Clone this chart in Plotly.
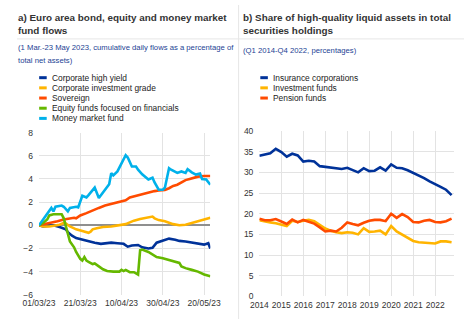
import plotly.graph_objects as go
import pandas as pd

# ---------------- Panel a data (day offsets from 1 March 2023) ----------------
hy_days = [0, 2, 4, 7, 10, 13, 14, 16, 18, 21, 24, 27, 30, 32, 35, 38, 41, 43, 45, 48, 50, 53, 55, 57, 60, 63, 66, 68, 71, 74, 77, 80, 82, 83]
hy_vals = [0.0, -0.1, -0.05, 0.0, -0.15, -0.35, -0.6, -0.9, -1.1, -1.25, -1.35, -1.5, -1.6, -1.55, -1.5, -1.55, -1.6, -1.85, -1.75, -1.7, -1.9, -2.0, -1.95, -1.5, -1.3, -1.15, -1.25, -1.35, -1.4, -1.48, -1.55, -1.67, -1.55, -2.0]

ig_days = [0, 2, 5, 8, 10, 12, 13, 15, 18, 21, 24, 25, 26, 28, 31, 35, 39, 42, 44, 46, 49, 52, 55, 56, 58, 61, 63, 65, 68, 71, 74, 77, 80, 83]
ig_vals = [0.0, -0.1, -0.1, 0.0, 0.05, 0.2, 0.15, -0.1, -0.35, -0.5, -0.65, -0.55, -0.35, -0.25, -0.15, -0.1, 0.0, 0.1, 0.25, 0.4, 0.55, 0.65, 0.75, 0.6, 0.45, 0.35, 0.2, 0.1, 0.0, 0.05, 0.2, 0.35, 0.5, 0.65]

sov_days = [0, 3, 6, 9, 12, 14, 15, 17, 18, 20, 23, 26, 29, 32, 35, 38, 40, 42, 44, 46, 48, 50, 53, 56, 58, 61, 63, 65, 67, 69, 71, 73, 75, 77, 80, 83]
sov_vals = [0.0, 0.1, 0.25, 0.35, 0.5, 0.55, 0.6, 0.65, 0.6, 0.85, 1.05, 1.3, 1.5, 1.7, 1.85, 1.95, 2.05, 2.15, 2.4, 2.5, 2.6, 2.7, 2.85, 2.95, 3.0, 3.05, 3.2, 3.4, 3.5, 3.68, 3.9, 4.0, 4.1, 4.2, 4.25, 4.25]

eq_days = [0, 2, 4, 5, 7, 10, 11, 12, 13, 14, 15, 17, 18, 20, 21, 22, 23, 24, 26, 27, 28, 29, 31, 33, 36, 39, 40, 41, 42, 44, 46, 48, 49, 50, 53, 55, 57, 60, 62, 64, 67, 68, 69, 71, 74, 77, 80, 83]
eq_vals = [0.0, 0.2, 0.5, 0.85, 0.95, 0.98, 0.95, 0.6, 0.0, -0.65, -1.4, -1.9, -2.3, -2.9, -3.05, -2.75, -3.05, -3.15, -3.35, -3.3, -3.4, -3.55, -3.8, -3.95, -4.0, -4.0, -3.85, -3.95, -3.85, -4.05, -4.05, -4.25, -2.15, -2.1, -2.3, -2.55, -2.75, -2.85, -2.95, -3.1, -3.2, -3.25, -3.55, -3.7, -3.85, -4.0, -4.25, -4.4]

mmf_days = [0, 3, 6, 7, 8, 11, 12, 14, 15, 18, 19, 21, 23, 24, 27, 29, 31, 34, 35, 36, 38, 40, 42, 43, 45, 47, 48, 50, 53, 55, 56, 58, 60, 61, 62, 63, 64, 67, 69, 71, 72, 74, 76, 78, 79, 81, 83]
mmf_vals = [0.0, 0.8, 1.5, 1.2, 1.6, 1.7, 1.6, 1.2, 1.5, 1.6, 1.55, 2.55, 2.4, 2.6, 3.25, 2.35, 2.85, 3.55, 4.5, 4.3, 4.65, 5.35, 6.05, 5.85, 5.07, 5.07, 4.8, 4.4, 3.95, 4.1, 3.7, 3.07, 3.07, 3.25, 4.0, 4.93, 4.8, 4.52, 4.65, 4.52, 4.85, 4.57, 4.38, 4.46, 4.0, 3.96, 3.5]

a_names = ["Corporate high yield", "Corporate investment grade", "Sovereign",
           "Equity funds focused on financials", "Money market fund"]
a_colors = ["#003299", "#ffb400", "#ff4b00", "#65b800", "#00b1ea"]
a_days = [hy_days, ig_days, sov_days, eq_days, mmf_days]
a_vals = [hy_vals, ig_vals, sov_vals, eq_vals, mmf_vals]
a_ticks = ["2023-03-01", "2023-03-21", "2023-04-10", "2023-04-30", "2023-05-20"]
a_ticktext = ["01/03/23", "21/03/23", "10/04/23", "30/04/23", "20/05/23"]

# ---------------- Panel b data (quarterly, Q1 2014 - Q4 2022) ----------------
quarters = pd.period_range("2014Q1", "2022Q4", freq="Q").to_timestamp()
insurance = [34.0, 34.3, 34.6, 35.7, 34.9, 33.8, 34.5, 34.1, 32.6, 32.8, 32.6, 31.5,
             31.3, 31.1, 30.9, 30.8, 31.1, 30.6, 30.0, 31.0, 30.3, 30.4, 31.2, 30.4,
             31.9, 31.1, 31.0, 30.5, 29.9, 29.3, 28.6, 27.8, 27.2, 26.5, 25.8, 24.5]
investment = [18.4, 18.1, 17.9, 17.7, 17.4, 17.0, 18.3, 18.0, 18.3, 18.5, 18.2, 17.4,
              16.4, 15.9, 15.5, 15.3, 15.5, 15.4, 15.0, 16.5, 15.6, 15.7, 15.9, 15.0,
              17.0, 15.7, 15.0, 14.3, 13.4, 13.1, 13.0, 12.9, 12.8, 13.3, 13.3, 13.1]
pension = [18.8, 18.4, 18.4, 18.7, 18.1, 17.5, 18.6, 17.9, 18.5, 18.1, 17.6, 16.7,
           15.7, 15.9, 15.7, 16.6, 17.9, 17.5, 17.2, 17.8, 18.3, 18.5, 18.5, 18.2,
           20.0, 19.0, 19.9, 19.2, 18.0, 17.9, 18.3, 18.5, 18.0, 17.9, 18.2, 18.8]
b_names = ["Insurance corporations", "Investment funds", "Pension funds"]
b_colors = ["#003299", "#ffb400", "#ff4b00"]
b_vals = [insurance, investment, pension]

FONT = "Liberation Sans, Arial, sans-serif"
W, H = 474, 324


def px(x):
    return x / W


def py(y):
    return (H - y) / H


fig = go.Figure()
start = pd.Timestamp("2023-03-01")
for name, color, days, vals in zip(a_names, a_colors, a_days, a_vals):
    dates = start + pd.to_timedelta(days, unit="D")
    fig.add_trace(go.Scatter(x=dates, y=vals, mode="lines", name=name,
                             line=dict(color=color, width=2.6), xaxis="x", yaxis="y",
                             showlegend=False))
for name, color, vals in zip(b_names, b_colors, b_vals):
    fig.add_trace(go.Scatter(x=quarters, y=vals, mode="lines", name=name,
                             line=dict(color=color, width=2.6), xaxis="x2", yaxis="y2",
                             showlegend=False))

grid = "#e3e3e3"
tickfont = dict(family=FONT, size=8.5, color="#333333")
fig.update_layout(
    width=W, height=H, margin=dict(l=0, r=0, t=0, b=0),
    paper_bgcolor="white", plot_bgcolor="white",
    xaxis=dict(domain=[px(23.3), px(205)], type="date",
               range=["2023-03-01", "2023-05-23"],
               tickvals=a_ticks, ticktext=a_ticktext, tickfont=tickfont,
               showgrid=True, gridcolor=grid, gridwidth=1, zeroline=False,
               showline=False, ticks="", ticklabelstandoff=2),
    yaxis=dict(domain=[py(299), py(131.7)], range=[-6, 8], dtick=2,
               tickfont=tickfont, showgrid=True, gridcolor=grid, gridwidth=1,
               zeroline=True, zerolinecolor="#8f8f8f", zerolinewidth=1.5,
               showline=False, ticks="", ticklabelstandoff=5),
    xaxis2=dict(domain=[px(257), px(463.7)], type="date", anchor="y2",
                range=["2014-01-01", "2022-11-15"], dtick="M12",
                tick0="2014-01-01", tickformat="%Y", tickfont=tickfont,
                showgrid=True, gridcolor=grid, gridwidth=1, zeroline=False,
                showline=False, ticks="", ticklabelstandoff=2),
    yaxis2=dict(domain=[py(300.7), py(130)], range=[0, 40], dtick=5, anchor="x2",
                tickfont=tickfont, showgrid=True, gridcolor=grid, gridwidth=1,
                zeroline=False, showline=False, ticks="", ticklabelstandoff=5),
)

ann = []
shapes = []
title_font = dict(family=FONT, size=9.9, color="#333333")
sub_font = dict(family=FONT, size=7.7, color="#1c3f94")
leg_font = dict(family=FONT, size=8.4, color="#222222")


def text(x, y, s, font):
    ann.append(dict(x=px(x), y=py(y), xref="paper", yref="paper", text=s,
                    showarrow=False, xanchor="left", yanchor="middle", font=font))


# Panel a titles
text(-1, 12.5, "<b>a) Euro area bond, equity and money market</b>", title_font)
text(-1, 26.5, "<b>fund flows</b>", title_font)
text(-1, 44, "(1 Mar.-23 May 2023, cumulative daily flows as a percentage of", sub_font)
text(-1, 57, "total net assets)", sub_font)
# Panel b titles
text(238, 12.5, "<b>b) Share of high-quality liquid assets in total</b>", title_font)
text(238, 26.5, "<b>securities holdings</b>", title_font)
text(238, 46.5, "(Q1 2014-Q4 2022, percentages)", sub_font)

# Legends
for i, (name, color) in enumerate(zip(a_names, a_colors)):
    y = 75 + i * 10.5
    shapes.append(dict(type="line", xref="paper", yref="paper", x0=px(23.5), x1=px(31.5),
                       y0=py(y), y1=py(y), line=dict(color=color, width=3)))
    text(35, y, name, leg_font)
for i, (name, color) in enumerate(zip(b_names, b_colors)):
    y = 75 + i * 10.5
    shapes.append(dict(type="line", xref="paper", yref="paper", x0=px(258), x1=px(266),
                       y0=py(y), y1=py(y), line=dict(color=color, width=3)))
    text(269, y, name, leg_font)

# separators
shapes.append(dict(type="line", xref="paper", yref="paper", x0=px(235), x1=px(235),
                   y0=0, y1=1, line=dict(color="#e6e6e6", width=1)))
shapes.append(dict(type="line", xref="paper", yref="paper", x0=0, x1=1,
                   y0=py(35), y1=py(35), line=dict(color="#e6e6e6", width=1)))

fig.update_layout(annotations=ann, shapes=shapes)
fig.write_html("out.html")
